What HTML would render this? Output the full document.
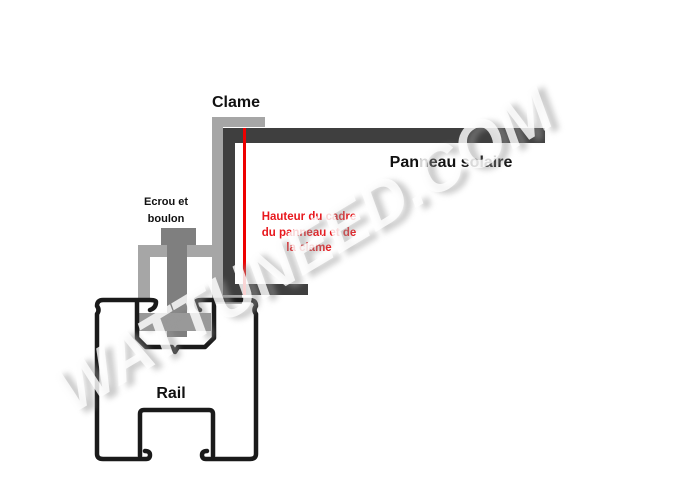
<!DOCTYPE html>
<html><head><meta charset="utf-8"><style>
html,body{margin:0;padding:0;background:#fff;width:700px;height:495px;overflow:hidden}
svg{display:block}
</style></head><body>
<svg width="700" height="495" viewBox="0 0 700 495" xmlns="http://www.w3.org/2000/svg" font-family="Liberation Sans, sans-serif">
<defs><filter id="b" x="-10%" y="-10%" width="120%" height="120%"><feGaussianBlur stdDeviation="3"/></filter></defs>
<g fill="#a6a6a6">
<rect x="212" y="117" width="53" height="10"/>
<rect x="212" y="117" width="11" height="140"/>
<rect x="138" y="245" width="85" height="12"/>
<rect x="138" y="245" width="12" height="55"/>
<rect x="212" y="245" width="11" height="58"/>
<rect x="212" y="294" width="30" height="10"/>
</g>
<rect x="161" y="228" width="35" height="17" fill="#7f7f7f"/>
<rect x="167" y="245" width="20" height="92" fill="#7f7f7f"/>
<rect x="139" y="313" width="72" height="18" fill="#999"/>
<g fill="#3f3f3f">
<rect x="223" y="128" width="322" height="15"/>
<rect x="223" y="128" width="12" height="167"/>
<rect x="223" y="284" width="85" height="11"/>
</g>
<rect x="243" y="128" width="3" height="167" fill="#e00"/>
<g fill="none" stroke="#1a1a1a" stroke-width="4.5" stroke-linejoin="round" stroke-linecap="round">
<path d="M150,310 Q156,308 156,302 Q156,300 150,300 L103,300 Q97,300 97,306 Q100,310 97,314 L97,454 Q97,459 103,459 L146,459 Q150,459 150,455 Q150,451 145,451"/>
<path d="M200,310 Q196,308 196,302 Q196,300 202,300 L250,300 Q256,300 256,306 Q253,310 256,314 L256,454 Q256,459 250,459 L206,459 Q202,459 202,455 Q202,451 207,451"/>
<path d="M137,302 L137,338 L146,347 L172,347 L175,352 L178,347 L205,347 L214,338 L214,302"/>
<path d="M140,456 L140,414 Q140,410 144,410 L209,410 Q213,410 213,414 L213,456"/>
</g>
<text x="236" y="107" font-size="16" font-weight="bold" text-anchor="middle" fill="#111">Clame</text>
<text x="451" y="167" font-size="16" font-weight="bold" text-anchor="middle" fill="#111">Panneau solaire</text>
<text x="166" y="205" font-size="11" font-weight="bold" text-anchor="middle" fill="#111">Ecrou et</text>
<text x="166" y="222" font-size="11" font-weight="bold" text-anchor="middle" fill="#111">boulon</text>
<g font-size="11.5" font-weight="bold" fill="#e8181d" text-anchor="middle">
<text x="309" y="220">Hauteur du cadre</text>
<text x="309" y="236">du panneau et de</text>
<text x="309" y="251">la clame</text>
</g>
<text x="171" y="398" font-size="16" font-weight="bold" text-anchor="middle" fill="#111">Rail</text>
<g transform="translate(303,250) rotate(-31)" font-size="64" font-weight="bold" font-style="italic" text-anchor="middle">
<text x="6" y="28" fill="#999" opacity="0.5" filter="url(#b)">WATTUNEED.COM</text>
<text x="0" y="22" fill="#fff" opacity="0.82">WATTUNEED.COM</text>
</g>
</svg>
</body></html>
